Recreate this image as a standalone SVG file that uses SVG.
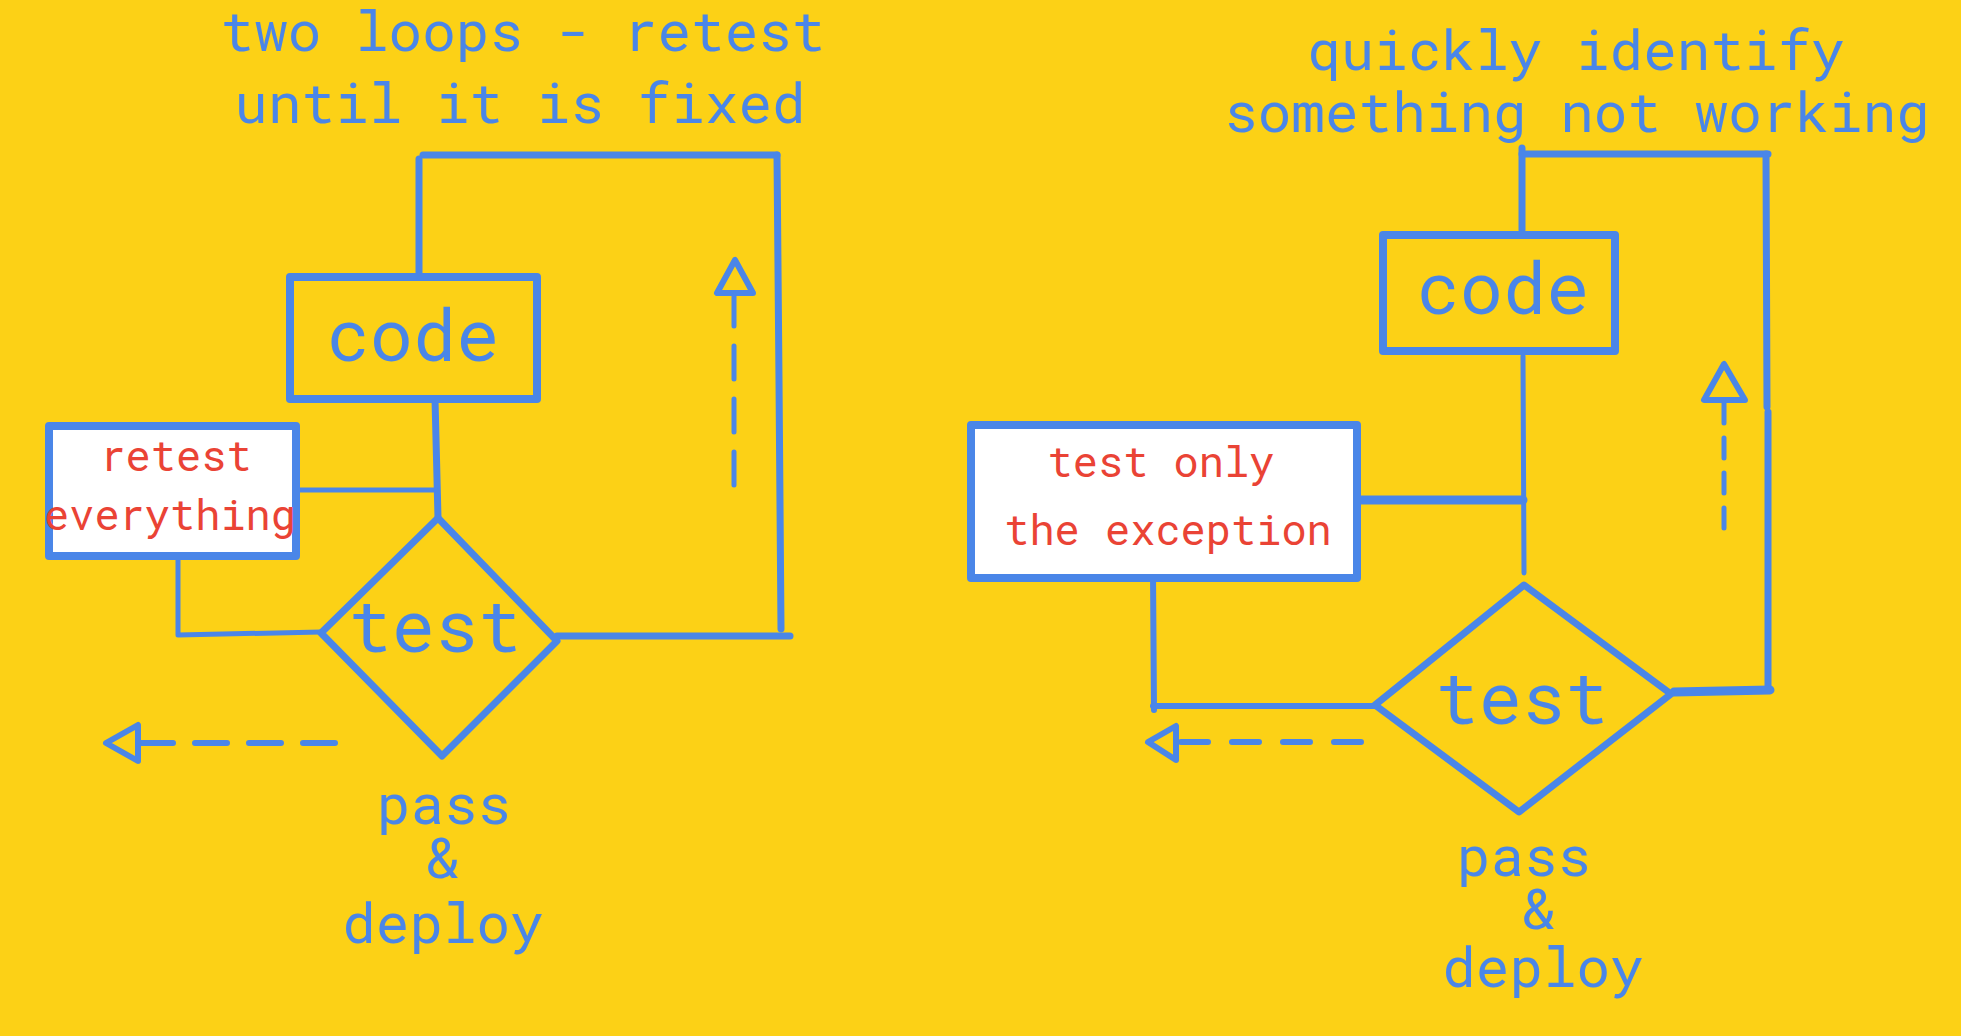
<svg xmlns="http://www.w3.org/2000/svg" width="1961" height="1036" viewBox="0 0 1961 1036">
<style>
.bg{fill:#FCD116}
.box{fill:none;stroke:#4A86E8;stroke-width:8;stroke-linejoin:round}
.wbox{fill:#FFFFFF;stroke:#4A86E8;stroke-width:8;stroke-linejoin:round}
.ln{fill:none;stroke:#4A86E8;stroke-width:7;stroke-linecap:round;stroke-linejoin:round}
.thin{fill:none;stroke:#4A86E8;stroke-width:5;stroke-linecap:round;stroke-linejoin:round}
.thick{fill:none;stroke:#4A86E8;stroke-width:9;stroke-linecap:round}
.head{fill:none;stroke:#4A86E8;stroke-width:6;stroke-linejoin:round}
.t{font-family:"Roboto Mono","Liberation Mono","DejaVu Sans Mono",monospace;fill:#4A86E8;text-anchor:middle}
.title{font-size:56px}
.big{font-size:72px}
.lab{font-size:56px}
.red{font-family:"Roboto Mono","Liberation Mono","DejaVu Sans Mono",monospace;fill:#EA4335;font-size:42px;text-anchor:middle}
</style>
<rect class="bg" x="0" y="0" width="1961" height="1036"/>

<g id="title-left">
<text class="t title" x="523" y="51">two loops - retest</text>
<text class="t title" x="520" y="123">until it is fixed</text>
</g>
<g id="title-right">
<text class="t title" x="1576" y="70">quickly identify</text>
<text class="t title" x="1577" y="132">something not working</text>
</g>

<g id="connectors">
<!-- left diagram -->
<path class="ln" d="M423 155 L777 155"/>
<path class="ln" d="M419 159 L419 277"/>
<path class="ln" d="M777 155 L779 380 L781 629"/>
<path class="ln" d="M435 399 L438 518"/>
<path class="ln" d="M557 636 L790 636"/>
<path class="thin" d="M296 490 L436 490"/>
<path class="thin" d="M178 556 L178 635 L321 632"/>
<path class="ln" d="M335 743 L138 743" stroke-dasharray="32 22" style="stroke-width:6"/>
<path class="head" d="M106 743 L138 725 L138 761 Z"/>
<path class="thin" d="M734 485 L734 296" stroke-dasharray="33 20"/>
<path class="head" d="M735 260 L717 293 L753 293 Z"/>
<!-- right diagram -->
<path class="ln" d="M1522 154 L1768 154"/>
<path class="ln" d="M1522 148 L1522 230"/>
<path class="ln" d="M1766 154 L1767 407"/>
<path class="ln" d="M1768 412 L1768 690"/>
<path class="thin" d="M1523 356 L1524 573"/>
<path class="thick" d="M1357 500 L1523 500"/>
<path class="thick" d="M1674 692 L1770 690"/>
<path class="ln" d="M1153 573 L1154 710" style="stroke-width:6"/>
<path class="ln" d="M1153 706 L1375 706" style="stroke-width:6"/>
<path class="ln" d="M1361 742 L1178 742" stroke-dasharray="27 24" style="stroke-width:6"/>
<path class="head" d="M1148 742 L1176 726 L1176 760 Z"/>
<path class="thin" d="M1724 528 L1724 403" stroke-dasharray="20 15"/>
<path class="head" d="M1724 364 L1704 400 L1745 400 Z"/>
</g>

<g id="code-left">
<rect class="box" x="290" y="277" width="247" height="122"/>
<text class="t big" x="413" y="361">code</text>
</g>
<g id="retest-everything">
<rect class="wbox" x="49" y="426" width="247" height="130"/>
<text class="red" x="176" y="471">retest</text>
<text class="red" x="170" y="530">everything</text>
</g>
<g id="test-left">
<path class="ln" d="M438 518 L557 641 L442 756 L321 633 Z"/>
<text class="t big" x="435" y="652">test</text>
</g>
<g id="pass-left">
<text class="t lab" x="444" y="824">pass</text>
<text class="t lab" x="442" y="878">&amp;</text>
<text class="t lab" x="443" y="943">deploy</text>
</g>

<g id="code-right">
<rect class="box" x="1383" y="235" width="232" height="116"/>
<text class="t big" x="1503" y="314">code</text>
</g>
<g id="test-only">
<rect class="wbox" x="971" y="425" width="386" height="153"/>
<text class="red" x="1161" y="477">test only</text>
<text class="red" x="1168" y="545">the exception</text>
</g>
<g id="test-right">
<path class="ln" d="M1524 585 L1671 694 L1519 812 L1375 705 Z"/>
<text class="t big" x="1522" y="724">test</text>
</g>
<g id="pass-right">
<text class="t lab" x="1524" y="876">pass</text>
<text class="t lab" x="1538" y="929">&amp;</text>
<text class="t lab" x="1543" y="987">deploy</text>
</g>
</svg>
